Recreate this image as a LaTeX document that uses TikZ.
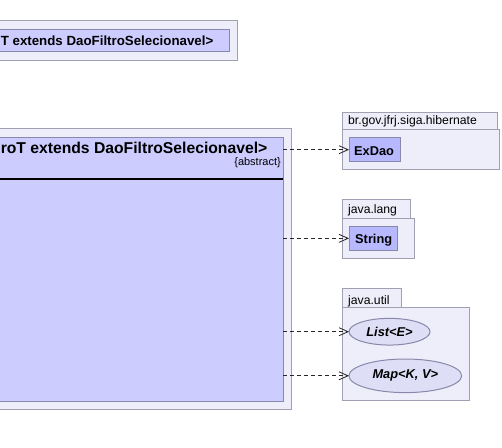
\documentclass[tikz,border=0pt]{standalone}
\usepackage{fontspec}
\setmainfont{Liberation Sans}
\usetikzlibrary{arrows.meta,shapes.geometric}
\definecolor{pkgfill}{RGB}{238,238,250}
\definecolor{pkgdraw}{RGB}{160,160,178}
\definecolor{clsfill}{RGB}{204,204,255}
\definecolor{clsdraw}{RGB}{136,136,170}
\definecolor{extfill}{RGB}{184,184,255}
\definecolor{ifill}{RGB}{222,222,246}
\begin{document}
\begin{tikzpicture}[x=1pt,y=-1pt,
  pkg/.style={rectangle,draw=pkgdraw,fill=pkgfill,line width=1pt,inner sep=0pt,outer sep=0pt,anchor=north west},
  cls/.style={rectangle,draw=clsdraw,fill=clsfill,line width=1pt,inner sep=0pt,outer sep=0pt,anchor=north west},
  extcls/.style={rectangle,draw=clsdraw,fill=extfill,line width=1pt,inner sep=0pt,outer sep=0pt,anchor=north west},
  iface/.style={ellipse,draw=clsdraw,fill=ifill,line width=1pt,inner sep=0pt,outer sep=0pt,font=\fontsize{12.8}{14}\selectfont\bfseries\itshape},
  lbl/.style={inner sep=0pt,anchor=base west,font=\fontsize{12.2}{14}\selectfont},
  clsname/.style={inner sep=0pt,anchor=base west,font=\fontsize{12.8}{14}\selectfont\bfseries},
  dep/.style={draw=black!85,line width=0.8pt,dash pattern=on 4pt off 3pt,-{Straight Barb[length=9pt,width=8pt]}}
]
\useasboundingbox (0,0) rectangle (502,447);

% top element
\node[pkg,minimum width=257.3pt,minimum height=40pt] (topouter) at (-20,20.7) {};
\node[cls,minimum width=249.3pt,minimum height=22.7pt] (topcls) at (-20,29) {};
\node[inner sep=0pt,anchor=base east,font=\fontsize{13.3}{15}\selectfont\bfseries] (toptitle) at (213.5,45) {T extends DaoFiltroSelecionavel>};

% main class
\node[pkg,minimum width=311.7pt,minimum height=281pt] (mainouter) at (-20,128.3) {};
\node[cls,minimum width=303.3pt,minimum height=263.5pt] (main) at (-20,137.5) {};
\node[inner sep=0pt,anchor=base east,font=\fontsize{15.7}{18}\selectfont\bfseries] (maintitle) at (267.5,153.5) {roT extends DaoFiltroSelecionavel>};
\node[inner sep=0pt,anchor=base east,font=\fontsize{11}{13}\selectfont] (abstract) at (281,165) {\{abstract\}};
\draw[line width=1.8pt] (-20,179) -- (283.3,179);

% br.gov.jfrj.siga.hibernate
\node[pkg,minimum width=155pt,minimum height=17pt] (hibtab) at (342,112) {};
\node[pkg,minimum width=157pt,minimum height=40pt] (hib) at (342,129) {};
\node[lbl] (hiblbl) at (348,124.5) {br.gov.jfrj.siga.hibernate};
\node[extcls,minimum width=51.7pt,minimum height=24pt] (exdao) at (349,137.7) {};
\node[clsname] (exdaolbl) at (354,155) {ExDao};

% java.lang
\node[pkg,minimum width=68.7pt,minimum height=19pt] (langtab) at (342,199.3) {};
\node[pkg,minimum width=72.3pt,minimum height=40pt] (lang) at (342,218.3) {};
\node[lbl] (langlbl) at (348,213.5) {java.lang};
\node[extcls,minimum width=48.7pt,minimum height=24.7pt] (string) at (349,226) {};
\node[clsname] (stringlbl) at (355,243.5) {String};

% java.util
\node[pkg,minimum width=59pt,minimum height=19pt] (utiltab) at (342,288.3) {};
\node[pkg,minimum width=127.3pt,minimum height=93.4pt] (util) at (342,307.3) {};
\node[lbl] (utillbl) at (348,304) {java.util};
\node[iface,minimum width=81pt,minimum height=26.7pt] (list) at (389.5,331.7) {List<E>};
\node[iface,minimum width=112.7pt,minimum height=33.6pt] (map) at (405.3,375.8) {Map<K, V>};

% dependencies
\draw[dep] (main.east |- exdao.west) -- (exdao.west);
\draw[dep] (main.east |- string.west) -- (string.west);
\draw[dep] (main.east |- list.west) -- (list.west);
\draw[dep] (main.east |- map.west) -- (map.west);
\end{tikzpicture}
\end{document}
